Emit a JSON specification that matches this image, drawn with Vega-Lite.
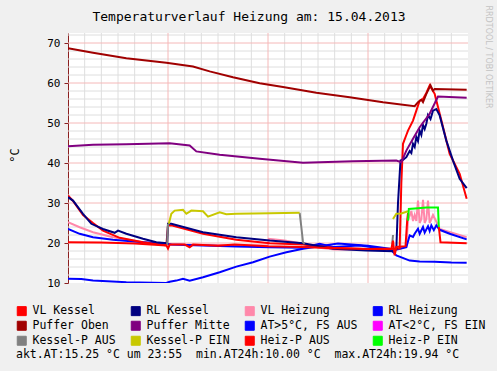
{
 "$schema": "https://vega.github.io/schema/vega-lite/v6.json",
 "width": 400, "height": 250,
 "autosize": {"type": "none"},
 "padding": {"left": 68, "top": 33, "right": 29, "bottom": 88},
 "background": "#f0f0f0",
 "view": {"fill": "white", "stroke": null},
 "title": {"text": "Temperaturverlauf Heizung am: 15.04.2013", "font": "DejaVu Sans Mono", "fontSize": 13, "fontWeight": "normal", "color": "black", "anchor": "middle", "offset": -29, "baseline": "alphabetic", "dx": -19},
 "config": {"axis": {"labelFont": "DejaVu Sans Mono", "labelColor": "black", "titleFont": "DejaVu Sans Mono", "titleColor": "black", "titleFontWeight": "normal"}},
 "datasets": {
  "gxminor": [{"h":1},{"h":2},{"h":3},{"h":4},{"h":5},{"h":7},{"h":8},{"h":9},{"h":10},{"h":11},{"h":13},{"h":14},{"h":15},{"h":16},{"h":17},{"h":19},{"h":20},{"h":21},{"h":22},{"h":23}],
  "gxmajor": [{"h":6},{"h":12},{"h":18}],
  "gyminor": [{"v":12},{"v":14},{"v":16},{"v":18},{"v":22},{"v":24},{"v":26},{"v":28},{"v":32},{"v":34},{"v":36},{"v":38},{"v":42},{"v":44},{"v":46},{"v":48},{"v":52},{"v":54},{"v":56},{"v":58},{"v":62},{"v":64},{"v":66},{"v":68},{"v":72}],
  "gymajor": [{"v":20},{"v":30},{"v":40},{"v":50},{"v":60},{"v":70}],
  "main": [
  {"s":"VL Heizung","g":"VH","h":0,"v":25.2},{"s":"VL Heizung","g":"VH","h":0.7,"v":23.95},{"s":"VL Heizung","g":"VH","h":1.5,"v":22.7},{"s":"VL Heizung","g":"VH","h":2.7,"v":21.45},{"s":"VL Heizung","g":"VH","h":4.5,"v":20.2},{"s":"VL Heizung","g":"VH","h":5.9,"v":19.9},{"s":"VL Heizung","g":"VH","h":6.1,"v":19.6},{"s":"VL Heizung","g":"VH","h":9,"v":19.5},{"s":"VL Heizung","g":"VH","h":12,"v":19.4},{"s":"VL Heizung","g":"VH","h":12.05,"v":21.05},{"s":"VL Heizung","g":"VH","h":13,"v":20.6},{"s":"VL Heizung","g":"VH","h":14.1,"v":19.8},{"s":"VL Heizung","g":"VH","h":15.1,"v":18.8},{"s":"VL Heizung","g":"VH","h":16,"v":18.4},{"s":"VL Heizung","g":"VH","h":18,"v":18.3},{"s":"VL Heizung","g":"VH","h":19.5,"v":18.4},{"s":"VL Heizung","g":"VH","h":20.3,"v":19},{"s":"VL Heizung","g":"VH","h":20.4,"v":25.6},{"s":"VL Heizung","g":"VH","h":20.6,"v":28},{"s":"VL Heizung","g":"VH","h":20.7,"v":25.5},{"s":"VL Heizung","g":"VH","h":20.8,"v":27},{"s":"VL Heizung","g":"VH","h":20.9,"v":25.5},{"s":"VL Heizung","g":"VH","h":21.0,"v":30.6},{"s":"VL Heizung","g":"VH","h":21.1,"v":25},{"s":"VL Heizung","g":"VH","h":21.2,"v":26},{"s":"VL Heizung","g":"VH","h":21.3,"v":30.8},{"s":"VL Heizung","g":"VH","h":21.4,"v":25},{"s":"VL Heizung","g":"VH","h":21.5,"v":26},{"s":"VL Heizung","g":"VH","h":21.6,"v":30.6},{"s":"VL Heizung","g":"VH","h":21.7,"v":25},{"s":"VL Heizung","g":"VH","h":21.9,"v":27},{"s":"VL Heizung","g":"VH","h":22.2,"v":24.5},{"s":"VL Heizung","g":"VH","h":22.3,"v":23.5},{"s":"VL Heizung","g":"VH","h":23.92,"v":21.45},

  {"s":"RL Heizung","g":"RH","h":0,"v":23.55},{"s":"RL Heizung","g":"RH","h":0.7,"v":22.3},{"s":"RL Heizung","g":"RH","h":1.5,"v":21.45},{"s":"RL Heizung","g":"RH","h":2.7,"v":20.8},{"s":"RL Heizung","g":"RH","h":4.5,"v":20.2},{"s":"RL Heizung","g":"RH","h":5.9,"v":19.8},{"s":"RL Heizung","g":"RH","h":6.2,"v":19.6},{"s":"RL Heizung","g":"RH","h":8.1,"v":19.4},{"s":"RL Heizung","g":"RH","h":10.1,"v":19.1},{"s":"RL Heizung","g":"RH","h":12.1,"v":18.95},{"s":"RL Heizung","g":"RH","h":14.1,"v":18.8},{"s":"RL Heizung","g":"RH","h":14.6,"v":19.3},{"s":"RL Heizung","g":"RH","h":15.1,"v":19.8},{"s":"RL Heizung","g":"RH","h":15.9,"v":19},{"s":"RL Heizung","g":"RH","h":17.5,"v":19.4},{"s":"RL Heizung","g":"RH","h":18.9,"v":18.55},{"s":"RL Heizung","g":"RH","h":19.5,"v":18.1},{"s":"RL Heizung","g":"RH","h":20.3,"v":18.95},{"s":"RL Heizung","g":"RH","h":20.5,"v":21.9},{"s":"RL Heizung","g":"RH","h":20.7,"v":21.5},{"s":"RL Heizung","g":"RH","h":20.8,"v":22.3},{"s":"RL Heizung","g":"RH","h":21.0,"v":23.55},{"s":"RL Heizung","g":"RH","h":21.1,"v":22.3},{"s":"RL Heizung","g":"RH","h":21.3,"v":24},{"s":"RL Heizung","g":"RH","h":21.4,"v":22.6},{"s":"RL Heizung","g":"RH","h":21.6,"v":24.2},{"s":"RL Heizung","g":"RH","h":21.7,"v":23},{"s":"RL Heizung","g":"RH","h":21.8,"v":24.4},{"s":"RL Heizung","g":"RH","h":21.95,"v":23.2},{"s":"RL Heizung","g":"RH","h":22.1,"v":24.4},{"s":"RL Heizung","g":"RH","h":22.3,"v":23.3},{"s":"RL Heizung","g":"RH","h":22.9,"v":22.3},{"s":"RL Heizung","g":"RH","h":23.92,"v":20.9},

  {"s":"AT>5°C, FS AUS","g":"AT","h":0,"v":11.05},{"s":"AT>5°C, FS AUS","g":"AT","h":0.8,"v":11},{"s":"AT>5°C, FS AUS","g":"AT","h":1.5,"v":10.6},{"s":"AT>5°C, FS AUS","g":"AT","h":3.5,"v":10.2},{"s":"AT>5°C, FS AUS","g":"AT","h":5.9,"v":10.0},{"s":"AT>5°C, FS AUS","g":"AT","h":6.1,"v":10.3},{"s":"AT>5°C, FS AUS","g":"AT","h":6.5,"v":10.6},{"s":"AT>5°C, FS AUS","g":"AT","h":6.9,"v":11.05},{"s":"AT>5°C, FS AUS","g":"AT","h":7.3,"v":10.6},{"s":"AT>5°C, FS AUS","g":"AT","h":8.1,"v":11.45},{"s":"AT>5°C, FS AUS","g":"AT","h":9.1,"v":12.7},{"s":"AT>5°C, FS AUS","g":"AT","h":10.1,"v":14.1},{"s":"AT>5°C, FS AUS","g":"AT","h":11.1,"v":15.2},{"s":"AT>5°C, FS AUS","g":"AT","h":12.1,"v":16.6},{"s":"AT>5°C, FS AUS","g":"AT","h":13.1,"v":17.7},{"s":"AT>5°C, FS AUS","g":"AT","h":14.1,"v":18.55},{"s":"AT>5°C, FS AUS","g":"AT","h":15.1,"v":19.2},{"s":"AT>5°C, FS AUS","g":"AT","h":16.2,"v":19.9},{"s":"AT>5°C, FS AUS","g":"AT","h":17,"v":19.6},{"s":"AT>5°C, FS AUS","g":"AT","h":18,"v":19.3},{"s":"AT>5°C, FS AUS","g":"AT","h":19.3,"v":18.6},{"s":"AT>5°C, FS AUS","g":"AT","h":19.7,"v":16.9},{"s":"AT>5°C, FS AUS","g":"AT","h":20.5,"v":15.6},{"s":"AT>5°C, FS AUS","g":"AT","h":21.1,"v":15.4},{"s":"AT>5°C, FS AUS","g":"AT","h":22,"v":15.3},{"s":"AT>5°C, FS AUS","g":"AT","h":23,"v":15.1},{"s":"AT>5°C, FS AUS","g":"AT","h":23.92,"v":15.05},

  {"s":"VL Kessel","g":"VK","h":0,"v":31.9},{"s":"VL Kessel","g":"VK","h":0.3,"v":30.5},{"s":"VL Kessel","g":"VK","h":0.9,"v":27},{"s":"VL Kessel","g":"VK","h":1.5,"v":25},{"s":"VL Kessel","g":"VK","h":2.1,"v":23.1},{"s":"VL Kessel","g":"VK","h":3.1,"v":21.3},{"s":"VL Kessel","g":"VK","h":4.5,"v":20.2},{"s":"VL Kessel","g":"VK","h":5.9,"v":19.4},{"s":"VL Kessel","g":"VK","h":6.0,"v":24.4},{"s":"VL Kessel","g":"VK","h":6.2,"v":24.4},{"s":"VL Kessel","g":"VK","h":8.1,"v":22.3},{"s":"VL Kessel","g":"VK","h":10.1,"v":20.8},{"s":"VL Kessel","g":"VK","h":12.1,"v":19.95},{"s":"VL Kessel","g":"VK","h":14.1,"v":19.6},{"s":"VL Kessel","g":"VK","h":15.9,"v":18.8},{"s":"VL Kessel","g":"VK","h":17.9,"v":18.5},{"s":"VL Kessel","g":"VK","h":19.9,"v":18.6},{"s":"VL Kessel","g":"VK","h":20.0,"v":35},{"s":"VL Kessel","g":"VK","h":20.1,"v":44.8},{"s":"VL Kessel","g":"VK","h":20.3,"v":47},{"s":"VL Kessel","g":"VK","h":20.4,"v":48.1},{"s":"VL Kessel","g":"VK","h":20.7,"v":50.6},{"s":"VL Kessel","g":"VK","h":20.9,"v":53.1},{"s":"VL Kessel","g":"VK","h":21.1,"v":55.6},{"s":"VL Kessel","g":"VK","h":21.3,"v":56},{"s":"VL Kessel","g":"VK","h":21.5,"v":57.5},{"s":"VL Kessel","g":"VK","h":21.7,"v":59.4},{"s":"VL Kessel","g":"VK","h":22.0,"v":57.3},{"s":"VL Kessel","g":"VK","h":22.2,"v":54},{"s":"VL Kessel","g":"VK","h":22.5,"v":49},{"s":"VL Kessel","g":"VK","h":22.9,"v":42.3},{"s":"VL Kessel","g":"VK","h":23.5,"v":37.3},{"s":"VL Kessel","g":"VK","h":23.92,"v":31.05},

  {"s":"RL Kessel","g":"RK","h":0,"v":31.45},{"s":"RL Kessel","g":"RK","h":0.3,"v":30.6},{"s":"RL Kessel","g":"RK","h":0.9,"v":27.3},{"s":"RL Kessel","g":"RK","h":1.4,"v":24.8},{"s":"RL Kessel","g":"RK","h":2.1,"v":23.5},{"s":"RL Kessel","g":"RK","h":2.8,"v":22.55},{"s":"RL Kessel","g":"RK","h":3.0,"v":23.1},{"s":"RL Kessel","g":"RK","h":3.5,"v":22.3},{"s":"RL Kessel","g":"RK","h":4.5,"v":21.05},{"s":"RL Kessel","g":"RK","h":5.3,"v":20.2},{"s":"RL Kessel","g":"RK","h":5.95,"v":19.95},{"s":"RL Kessel","g":"RK","h":6.0,"v":24.8},{"s":"RL Kessel","g":"RK","h":6.2,"v":24.8},{"s":"RL Kessel","g":"RK","h":8.1,"v":22.7},{"s":"RL Kessel","g":"RK","h":10.1,"v":21.45},{"s":"RL Kessel","g":"RK","h":12.1,"v":20.6},{"s":"RL Kessel","g":"RK","h":14.1,"v":19.95},{"s":"RL Kessel","g":"RK","h":15.9,"v":18.55},{"s":"RL Kessel","g":"RK","h":17.9,"v":18.1},{"s":"RL Kessel","g":"RK","h":19.5,"v":17.95},{"s":"RL Kessel","g":"RK","h":19.7,"v":18.5},{"s":"RL Kessel","g":"RK","h":19.8,"v":30},{"s":"RL Kessel","g":"RK","h":19.95,"v":40.6},{"s":"RL Kessel","g":"RK","h":20.1,"v":40.8},{"s":"RL Kessel","g":"RK","h":20.3,"v":41.45},{"s":"RL Kessel","g":"RK","h":20.5,"v":43},{"s":"RL Kessel","g":"RK","h":20.6,"v":42.5},{"s":"RL Kessel","g":"RK","h":20.7,"v":44.8},{"s":"RL Kessel","g":"RK","h":20.8,"v":44},{"s":"RL Kessel","g":"RK","h":20.9,"v":46.5},{"s":"RL Kessel","g":"RK","h":21.0,"v":45.5},{"s":"RL Kessel","g":"RK","h":21.1,"v":48.1},{"s":"RL Kessel","g":"RK","h":21.2,"v":47},{"s":"RL Kessel","g":"RK","h":21.3,"v":49.5},{"s":"RL Kessel","g":"RK","h":21.4,"v":48.5},{"s":"RL Kessel","g":"RK","h":21.5,"v":49.8},{"s":"RL Kessel","g":"RK","h":21.6,"v":52},{"s":"RL Kessel","g":"RK","h":21.75,"v":51},{"s":"RL Kessel","g":"RK","h":21.9,"v":53.1},{"s":"RL Kessel","g":"RK","h":22.1,"v":53.5},{"s":"RL Kessel","g":"RK","h":22.3,"v":51.9},{"s":"RL Kessel","g":"RK","h":22.7,"v":45.6},{"s":"RL Kessel","g":"RK","h":23.1,"v":40.6},{"s":"RL Kessel","g":"RK","h":23.5,"v":36.05},{"s":"RL Kessel","g":"RK","h":23.92,"v":33.7},

  {"s":"Puffer Oben","g":"PO","h":0,"v":68.7},{"s":"Puffer Oben","g":"PO","h":0.75,"v":68.1},{"s":"Puffer Oben","g":"PO","h":1.5,"v":67.55},{"s":"Puffer Oben","g":"PO","h":3.5,"v":66.2},{"s":"Puffer Oben","g":"PO","h":5.9,"v":65.05},{"s":"Puffer Oben","g":"PO","h":7.5,"v":64.1},{"s":"Puffer Oben","g":"PO","h":8.5,"v":62.9},{"s":"Puffer Oben","g":"PO","h":9.9,"v":61.45},{"s":"Puffer Oben","g":"PO","h":11.5,"v":59.95},{"s":"Puffer Oben","g":"PO","h":12.9,"v":59},{"s":"Puffer Oben","g":"PO","h":14.9,"v":57.55},{"s":"Puffer Oben","g":"PO","h":16.9,"v":56.45},{"s":"Puffer Oben","g":"PO","h":18.9,"v":55.2},{"s":"Puffer Oben","g":"PO","h":20.8,"v":54.2},{"s":"Puffer Oben","g":"PO","h":21.0,"v":55.2},{"s":"Puffer Oben","g":"PO","h":21.2,"v":55.8},{"s":"Puffer Oben","g":"PO","h":21.3,"v":55.2},{"s":"Puffer Oben","g":"PO","h":21.5,"v":57.3},{"s":"Puffer Oben","g":"PO","h":21.75,"v":59.4},{"s":"Puffer Oben","g":"PO","h":21.9,"v":58.1},{"s":"Puffer Oben","g":"PO","h":22.0,"v":58.5},{"s":"Puffer Oben","g":"PO","h":23.92,"v":58.3},

  {"s":"Puffer Mitte","g":"PM","h":0,"v":44.2},{"s":"Puffer Mitte","g":"PM","h":1.5,"v":44.55},{"s":"Puffer Mitte","g":"PM","h":3.5,"v":44.7},{"s":"Puffer Mitte","g":"PM","h":6.1,"v":44.95},{"s":"Puffer Mitte","g":"PM","h":7.3,"v":44.4},{"s":"Puffer Mitte","g":"PM","h":7.7,"v":42.9},{"s":"Puffer Mitte","g":"PM","h":9.1,"v":42.05},{"s":"Puffer Mitte","g":"PM","h":11.5,"v":41.05},{"s":"Puffer Mitte","g":"PM","h":14.1,"v":40.05},{"s":"Puffer Mitte","g":"PM","h":17.1,"v":40.45},{"s":"Puffer Mitte","g":"PM","h":19.7,"v":40.6},{"s":"Puffer Mitte","g":"PM","h":20.0,"v":40.2},{"s":"Puffer Mitte","g":"PM","h":20.3,"v":43.1},{"s":"Puffer Mitte","g":"PM","h":20.7,"v":46.05},{"s":"Puffer Mitte","g":"PM","h":21.1,"v":48.95},{"s":"Puffer Mitte","g":"PM","h":21.7,"v":52.3},{"s":"Puffer Mitte","g":"PM","h":22.2,"v":56.6},{"s":"Puffer Mitte","g":"PM","h":23.92,"v":56.3},

  {"s":"Kessel-P AUS","g":"KA1","h":5.95,"v":19.5},{"s":"Kessel-P AUS","g":"KA1","h":6.0,"v":24.8},
  {"s":"Kessel-P AUS","g":"KA2","h":13.9,"v":27.55},{"s":"Kessel-P AUS","g":"KA2","h":14.0,"v":24},{"s":"Kessel-P AUS","g":"KA2","h":14.1,"v":20.2},{"s":"Kessel-P AUS","g":"KA2","h":14.2,"v":19.8},
  {"s":"Kessel-P AUS","g":"KA3","h":19.45,"v":19.6},{"s":"Kessel-P AUS","g":"KA3","h":19.5,"v":22},

  {"s":"Kessel-P EIN","g":"KE1","h":6.05,"v":24.8},{"s":"Kessel-P EIN","g":"KE1","h":6.2,"v":27.3},{"s":"Kessel-P EIN","g":"KE1","h":6.4,"v":28.1},{"s":"Kessel-P EIN","g":"KE1","h":6.9,"v":28.3},{"s":"Kessel-P EIN","g":"KE1","h":7.1,"v":27.3},{"s":"Kessel-P EIN","g":"KE1","h":7.4,"v":28.1},{"s":"Kessel-P EIN","g":"KE1","h":8.1,"v":27.95},{"s":"Kessel-P EIN","g":"KE1","h":8.4,"v":26.6},{"s":"Kessel-P EIN","g":"KE1","h":9.1,"v":27.7},{"s":"Kessel-P EIN","g":"KE1","h":9.5,"v":27.2},{"s":"Kessel-P EIN","g":"KE1","h":10.1,"v":27.3},{"s":"Kessel-P EIN","g":"KE1","h":12.1,"v":27.45},{"s":"Kessel-P EIN","g":"KE1","h":13.9,"v":27.55},
  {"s":"Kessel-P EIN","g":"KE2","h":19.5,"v":26},{"s":"Kessel-P EIN","g":"KE2","h":19.7,"v":27.3},{"s":"Kessel-P EIN","g":"KE2","h":20.0,"v":27.4},{"s":"Kessel-P EIN","g":"KE2","h":20.4,"v":27.95},

  {"s":"Heiz-P AUS","g":"HA1","h":0,"v":20.2},{"s":"Heiz-P AUS","g":"HA1","h":2,"v":20.1},{"s":"Heiz-P AUS","g":"HA1","h":4,"v":19.9},{"s":"Heiz-P AUS","g":"HA1","h":5.9,"v":19.4},{"s":"Heiz-P AUS","g":"HA1","h":6.0,"v":18.6},{"s":"Heiz-P AUS","g":"HA1","h":6.1,"v":19.6},{"s":"Heiz-P AUS","g":"HA1","h":7.0,"v":19.6},{"s":"Heiz-P AUS","g":"HA1","h":7.3,"v":18.95},{"s":"Heiz-P AUS","g":"HA1","h":7.5,"v":19.6},{"s":"Heiz-P AUS","g":"HA1","h":9.0,"v":19.3},{"s":"Heiz-P AUS","g":"HA1","h":10,"v":19.6},{"s":"Heiz-P AUS","g":"HA1","h":12,"v":19.2},{"s":"Heiz-P AUS","g":"HA1","h":14,"v":19.0},{"s":"Heiz-P AUS","g":"HA1","h":16,"v":18.7},{"s":"Heiz-P AUS","g":"HA1","h":18,"v":18.5},{"s":"Heiz-P AUS","g":"HA1","h":19.4,"v":18.5},{"s":"Heiz-P AUS","g":"HA1","h":19.5,"v":20.6},{"s":"Heiz-P AUS","g":"HA1","h":19.6,"v":16.9},{"s":"Heiz-P AUS","g":"HA1","h":19.7,"v":19},{"s":"Heiz-P AUS","g":"HA1","h":20.25,"v":19.2},{"s":"Heiz-P AUS","g":"HA1","h":20.35,"v":25.6},{"s":"Heiz-P AUS","g":"HA1","h":20.4,"v":27.5},
  {"s":"Heiz-P AUS","g":"HA2","h":22.25,"v":24},{"s":"Heiz-P AUS","g":"HA2","h":22.35,"v":20.2},{"s":"Heiz-P AUS","g":"HA2","h":23.92,"v":19.95},

  {"s":"Heiz-P EIN","g":"HE","h":20.4,"v":25.6},{"s":"Heiz-P EIN","g":"HE","h":20.45,"v":28.5},{"s":"Heiz-P EIN","g":"HE","h":21.0,"v":28.7},{"s":"Heiz-P EIN","g":"HE","h":21.5,"v":28.9},{"s":"Heiz-P EIN","g":"HE","h":22.2,"v":28.9},{"s":"Heiz-P EIN","g":"HE","h":22.25,"v":24}
  ]
 },
 "layer": [
  {"data": {"name": "gxminor"}, "mark": {"type": "rule", "color": "#dedede", "strokeWidth": 1},
   "encoding": {"x": {"field": "h", "type": "quantitative", "scale": {"domain": [0, 24], "nice": false, "zero": false}, "axis": null}}},
  {"data": {"name": "gyminor"}, "mark": {"type": "rule", "color": "#dedede", "strokeWidth": 1},
   "encoding": {"y": {"field": "v", "type": "quantitative", "scale": {"domain": [10, 72.5], "nice": false, "zero": false}, "axis": null}}},
  {"data": {"name": "gxmajor"}, "mark": {"type": "rule", "color": "#f5b8b8", "strokeWidth": 1},
   "encoding": {"x": {"field": "h", "type": "quantitative", "axis": null}}},
  {"data": {"name": "gymajor"}, "mark": {"type": "rule", "color": "#f5b8b8", "strokeWidth": 1},
   "encoding": {"y": {"field": "v", "type": "quantitative", "axis": null}}},
  {
   "data": {"name": "main"},
   "mark": {"type": "line", "strokeWidth": 2, "clip": true},
   "encoding": {
    "x": {"field": "h", "type": "quantitative",
     "axis": {"title": null, "values": [0, 12],
      "labelExpr": "datum.value === 0 ? 'Mon 00:00' : 'Mon 12:00'",
      "labelFontSize": 10.5, "labelOverlap": false, "labelBound": false, "labelFlush": false, "labelPadding": 2,
      "grid": false, "tickColor": "#8b2020", "tickSize": 4, "domainColor": "#8b2020", "domainWidth": 1}},
    "y": {"field": "v", "type": "quantitative",
     "axis": {"title": "°C", "titleFontSize": 12, "titleAngle": -90, "titleX": -50, "titleY": 122, "titleBaseline": "alphabetic", "titleAlign": "center",
      "values": [10, 20, 30, 40, 50, 60, 70], "format": "d",
      "labelFontSize": 11, "labelOverlap": false, "labelBound": false, "labelFlush": false, "labelPadding": 4,
      "grid": false, "tickColor": "#8b2020", "tickSize": 4, "domainColor": "#8b2020", "domainWidth": 1}},
    "color": {"field": "s", "type": "nominal",
     "scale": {"domain": ["VL Kessel", "RL Kessel", "VL Heizung", "RL Heizung", "Puffer Oben", "Puffer Mitte", "AT>5°C, FS AUS", "AT<2°C, FS EIN", "Kessel-P AUS", "Kessel-P EIN", "Heiz-P AUS", "Heiz-P EIN"],
      "range": ["#ff0000", "#000080", "#ff88aa", "#0000ff", "#a00000", "#800080", "#0000ff", "#ff00ff", "#808080", "#c8c800", "#ff0000", "#00ff00"]},
     "legend": {"orient": "none", "legendX": -52, "legendY": 272, "columns": 4, "direction": "horizontal", "padding": 0,
      "symbolType": "square", "symbolSize": 81, "symbolStrokeColor": "black", "symbolStrokeWidth": 1,
      "labelFont": "DejaVu Sans Mono", "labelFontSize": 11.5, "labelColor": "black", "labelOffset": 5, "labelLimit": 200,
      "columnPadding": 13, "rowPadding": 1,
      "title": "akt.AT:15.25 °C um 23:55\u00a0\u00a0min.AT24h:10.00 °C\u00a0\u00a0max.AT24h:19.94 °C",
      "titleOrient": "bottom", "titleAnchor": "start", "titleFont": "DejaVu Sans Mono", "titleFontSize": 11.5, "titleFontWeight": "normal", "titleColor": "black", "titleLimit": 600, "titlePadding": 2,
      "encode": {"symbols": {"update": {"fill": {"scale": "color", "field": "value"}, "fillOpacity": {"value": 1}, "stroke": {"value": "black"}, "strokeWidth": {"value": 1}, "shape": {"value": "square"}, "size": {"value": 81}, "opacity": {"value": 1}}}}}},
    "detail": {"field": "g", "type": "nominal"}
   }
  },
  {
   "data": {"values": [{"h": 0, "v": 10}]},
   "mark": {"type": "point", "opacity": 0},
   "encoding": {
    "x": {"field": "h", "type": "quantitative", "axis": null},
    "y": {"field": "v", "type": "quantitative",
     "axis": {"orient": "right", "title": "RRDTOOL / TOBI OETIKER", "labels": false, "ticks": false, "domain": false, "grid": false,
      "titleFont": "DejaVu Sans", "titleFontSize": 8, "titleColor": "#c4c4c4", "titleAngle": 90, "titleX": 17, "titleY": -28, "titleAlign": "left", "titleBaseline": "alphabetic"}}
   }
  }
 ],
 "resolve": {"axis": {"y": "independent"}}
}
